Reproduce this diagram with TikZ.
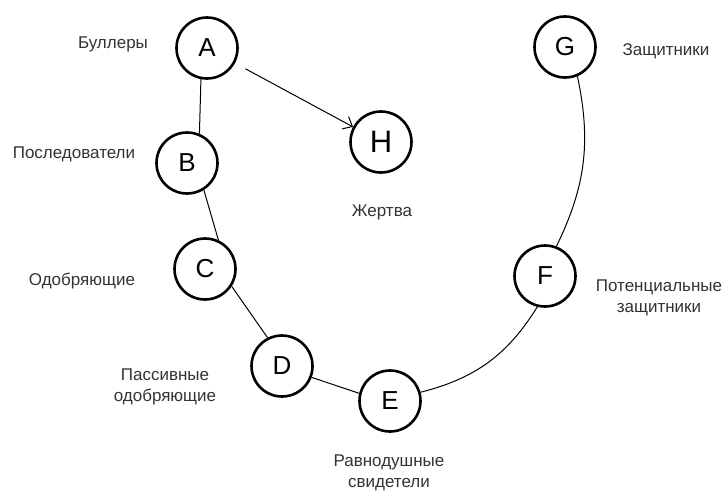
\documentclass[tikz,border=0pt]{standalone}
\usepackage{fontspec}
\setmainfont{Liberation Sans}
\usetikzlibrary{arrows.meta}

\begin{document}
\begin{tikzpicture}[x=1pt,y=-1pt,
role/.style={draw,circle,line width=2.6pt,minimum size=61pt,inner sep=0pt,
font=\fontsize{26}{26}\selectfont},
tag/.style={font=\fontsize{17}{21}\selectfont,align=center,text=black!80},
link/.style={line width=1pt}]
\useasboundingbox (0,0) rectangle (726,491);
\node[role] (A) at (207,48) {A};
\node[role] (B) at (187,163) {B};
\node[role] (C) at (205,269) {C};
\node[role] (D) at (282,366) {D};
\node[role] (E) at (390,401) {E};
\node[role] (F) at (545,276) {F};
\node[role] (G) at (565,47) {G};
\node[role,font=\fontsize{31}{31}\selectfont] (H) at (381,142) {H};
\node[tag] (tA) at (113,44) {Буллеры};
\node[tag] (tB) at (74,154) {Последователи};
\node[tag] (tC) at (82,281) {Одобряющие};
\node[tag] (tD) at (165,387) {Пассивные\\одобряющие};
\node[tag] (tE) at (389,473) {Равнодушные\\свидетели};
\node[tag] (tF) at (659,298) {Потенциальные\\защитники};
\node[tag] (tG) at (666,51) {Защитники};
\node[tag] (tH) at (382,212) {Жертва};
\draw[link] (A.259) -- (B.67);
\draw[link] (B.302) -- (C.65);
\draw[link] (C.327) -- (D.117);
\draw[link] (D.339) -- (E.166);
\draw[link] (E.16) to[bend right=22] (F.256);
\draw[link] (G.293) to[bend left=19] (F.69);
\draw[link,-{Straight Barb[length=8pt,width=14pt]},shorten <=12pt] (A) -- (H);
\end{tikzpicture}
\end{document}
